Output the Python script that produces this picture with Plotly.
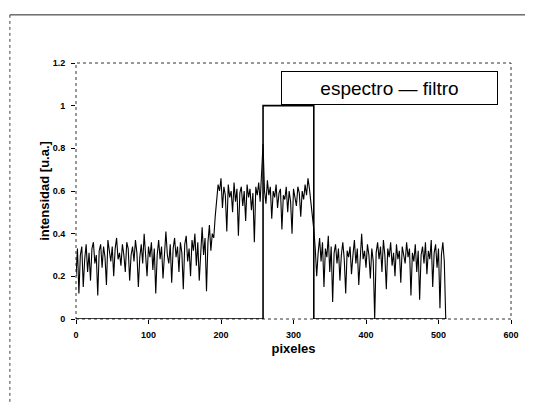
import plotly.graph_objects as go

# ---- data ----
pixel_step = 2
espectro = [
    0.20, 0.33, 0.12, 0.30, 0.34, 0.15, 0.28, 0.35, 0.22, 0.31,
    0.18, 0.33, 0.36, 0.26, 0.30, 0.11, 0.32, 0.35, 0.24, 0.34,
    0.29, 0.16, 0.37, 0.31, 0.27, 0.34, 0.20, 0.33, 0.38, 0.28,
    0.31, 0.25, 0.35, 0.30, 0.22, 0.36, 0.33, 0.18, 0.30, 0.34,
    0.27, 0.37, 0.31, 0.15, 0.29, 0.35, 0.26, 0.40, 0.32, 0.20,
    0.34, 0.29, 0.36, 0.23, 0.33, 0.12, 0.30, 0.37, 0.28, 0.34,
    0.19, 0.32, 0.41, 0.30, 0.26, 0.35, 0.17, 0.33, 0.38, 0.29,
    0.34, 0.22, 0.36, 0.31, 0.14, 0.35, 0.39, 0.27, 0.33, 0.20,
    0.37, 0.32, 0.40, 0.25, 0.36, 0.18, 0.34, 0.43, 0.30, 0.38,
    0.13, 0.36, 0.44,
    0.32, 0.40, 0.38, 0.48, 0.55, 0.63,
    0.60, 0.66, 0.52, 0.62, 0.58, 0.41, 0.63, 0.57, 0.60, 0.50,
    0.64, 0.55, 0.61, 0.39, 0.59, 0.62, 0.53, 0.60, 0.46, 0.63,
    0.57, 0.61, 0.51, 0.59, 0.36, 0.62, 0.58, 0.64, 0.55, 0.67,
    0.82, 0.60, 0.54, 0.65, 0.58, 0.62, 0.47, 0.60, 0.57, 0.63,
    0.52, 0.59, 0.61, 0.42, 0.58, 0.56, 0.62, 0.50, 0.60, 0.55,
    0.40, 0.61, 0.57, 0.53, 0.62, 0.59, 0.48, 0.60, 0.56, 0.63,
    0.58, 0.66, 0.61, 0.55, 0.50, 0.42,
    0.33, 0.20, 0.31, 0.38,
    0.27, 0.36, 0.15, 0.33, 0.29, 0.39, 0.22, 0.34, 0.08, 0.31,
    0.35, 0.26, 0.33, 0.18, 0.30, 0.36, 0.28, 0.12, 0.32, 0.29,
    0.34, 0.21, 0.30, 0.37, 0.26, 0.33, 0.16, 0.31, 0.40, 0.28,
    0.32, 0.24, 0.35, 0.30, 0.19, 0.33, 0.27, 0.00, 0.31, 0.36,
    0.28, 0.34, 0.22, 0.37, 0.30, 0.14, 0.33, 0.29, 0.36, 0.25,
    0.31, 0.20, 0.35, 0.28, 0.32, 0.17, 0.34, 0.30, 0.26, 0.36,
    0.29, 0.33, 0.11, 0.31, 0.27, 0.35, 0.22, 0.32, 0.09, 0.30,
    0.34, 0.26, 0.36, 0.21, 0.32, 0.28, 0.37, 0.15, 0.31, 0.35,
    0.24, 0.33, 0.05, 0.30, 0.36, 0.27, 0.00,
]
pixeles = [i * pixel_step for i in range(len(espectro))]

filtro_x = [0, 258, 258, 328, 328, 511]
filtro_y = [0, 0, 1, 1, 0, 0]

x_ticks = [0, 100, 200, 300, 400, 500, 600]
y_ticks = [0, 0.2, 0.4, 0.6, 0.8, 1, 1.2]
y_tick_labels = ["0", "0.2", "0.4", "0.6", "0.8", "1", "1.2"]

FONT = "Liberation Sans"

fig = go.Figure()
fig.add_trace(go.Scatter(x=pixeles, y=espectro, mode="lines", name="espectro",
                         line=dict(color="black", width=1.1), showlegend=False))
fig.add_trace(go.Scatter(x=filtro_x, y=filtro_y, mode="lines", name="filtro",
                         line=dict(color="black", width=1.6), showlegend=False))

fig.update_layout(
    width=533, height=402,
    margin=dict(l=68, r=30, t=55, b=91, autoexpand=False),
    paper_bgcolor="white", plot_bgcolor="white",
    font=dict(family=FONT, color="black"),
    xaxis=dict(range=[0, 600], tickvals=x_ticks, ticks="outside", ticklen=4,
               tickcolor="black", showgrid=False, zeroline=False, showline=False,
               tickfont=dict(size=9, family=FONT, weight="bold"),
               ticklabelstandoff=3,
               title=dict(text="pixeles", font=dict(size=13, family=FONT, weight="bold"),
                          standoff=5),
               automargin=False),
    yaxis=dict(range=[0, 1.2], tickvals=y_ticks, ticktext=y_tick_labels,
               ticks="outside", ticklen=4, tickcolor="black",
               showgrid=False, zeroline=False, showline=False,
               tickfont=dict(size=9, family=FONT, weight="bold"),
               ticklabelstandoff=4,
               title=dict(text="intensidad [u.a.]", font=dict(size=13, family=FONT, weight="bold"),
                          standoff=0),
               automargin=False),
    shapes=[
        # plot frame
        dict(type="rect", xref="paper", yref="paper", x0=0, y0=0, x1=1, y1=1,
             line=dict(color="#333333", width=1, dash="dot"), layer="below"),
        # outer chart border
        dict(type="line", xref="paper", yref="paper", x0=-0.152, y0=1.188, x1=1.1, y1=1.188,
             line=dict(color="#222222", width=1)),
        dict(type="line", xref="paper", yref="paper", x0=-0.152, y0=1.188, x1=-0.152, y1=-0.4,
             line=dict(color="#444444", width=1, dash="dot")),
    ],
    annotations=[
        dict(text="espectro \u2014 filtro", xref="paper", yref="paper",
             x=0.7218, y=0.902, xanchor="center", yanchor="middle", showarrow=False,
             font=dict(size=19, family=FONT, color="black"),
             width=211, height=28, borderpad=2,
             bordercolor="black", borderwidth=1, bgcolor="white"),
    ],
)

fig.write_html("out.html")
